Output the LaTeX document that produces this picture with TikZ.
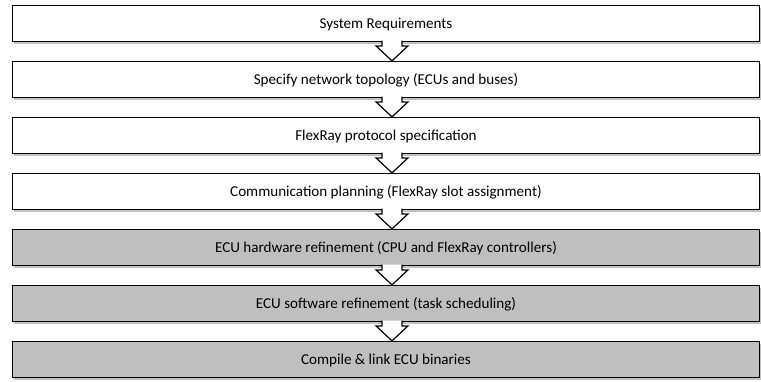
\documentclass[tikz,border=0pt]{standalone}
\usepackage{fontspec}
\setmainfont{Carlito}
\usetikzlibrary{positioning,shadows,calc}
\definecolor{stagegray}{RGB}{191,191,191}
\tikzset{
  stage/.style={draw=black, line width=1.2pt, fill=white,
    minimum width=747pt, minimum height=36pt, inner sep=0pt,
    font=\fontsize{15.1}{18}\selectfont, text height=11pt, text depth=2pt,
    drop shadow={shadow xshift=1pt, shadow yshift=-2.5pt,
      opacity=.35, fill=black!70}},
  hwstage/.style={stage, fill=stagegray},
  flowarrow/.style={draw=black, line width=1.2pt, fill=white, line join=miter}
}
% hollow block arrow from one stage down to the next
\newcommand*{\stagearrow}[2]{%
  \coordinate (s) at ($(#1.south)+(6,0)$);
  \coordinate (e) at ($(#2.north)+(6,0)$);
  \draw[flowarrow] ($(s)+(-10,-1.4)$) -- ($(e)+(-10,-15)$)
    -- ($(e)+(-16,-15)$) -- (e) -- ($(e)+(16,-15)$)
    -- ($(e)+(10,-15)$) -- ($(s)+(10,-1.4)$);
}

\begin{document}
\begin{tikzpicture}[x=1pt,y=-1pt]
\useasboundingbox (0,0) rectangle (761,381);
\node[stage] (req) at (386,23.5) {System Requirements};
\node[stage, below=18.8pt of req] (topo)
  {Specify network topology (ECUs and buses)};
\node[stage, below=18.8pt of topo] (proto) {FlexRay protocol specification};
\node[stage, below=18.8pt of proto] (plan)
  {Communication planning (FlexRay slot assignment)};
\node[hwstage, below=18.8pt of plan] (hw)
  {ECU hardware refinement (CPU and FlexRay controllers)};
\node[hwstage, below=18.8pt of hw] (sw)
  {ECU software refinement (task scheduling)};
\node[hwstage, below=18.8pt of sw] (link) {Compile \& link ECU binaries};
\stagearrow{req}{topo}
\stagearrow{topo}{proto}
\stagearrow{proto}{plan}
\stagearrow{plan}{hw}
\stagearrow{hw}{sw}
\stagearrow{sw}{link}
\end{tikzpicture}
\end{document}
